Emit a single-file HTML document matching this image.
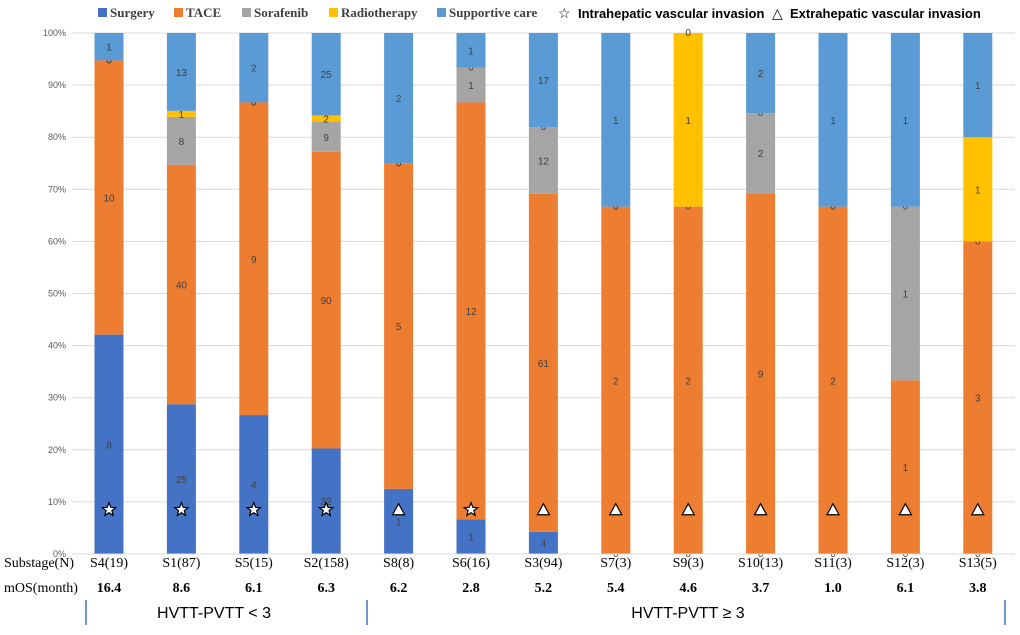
<!DOCTYPE html>
<html><head><meta charset="utf-8"><style>
body{margin:0;background:#fff;}
svg text{font-family:"Liberation Sans",sans-serif;}
.serif{font-family:"Liberation Serif",serif;}
</style></head><body>
<svg id="c" width="1020" height="630" xmlns="http://www.w3.org/2000/svg"></svg>
<script>
const categories=["S4(19)","S1(87)","S5(15)","S2(158)","S8(8)","S6(16)","S3(94)","S7(3)","S9(3)","S10(13)","S11(3)","S12(3)","S13(5)"];
const mos=["16.4","8.6","6.1","6.3","6.2","2.8","5.2","5.4","4.6","3.7","1.0","6.1","3.8"];
const surgery=[8,25,4,32,1,1,4,0,0,0,0,0,0];
const tace=[10,40,9,90,5,12,61,2,2,9,2,1,3];
const sorafenib=[0,8,0,9,0,1,12,0,0,2,0,1,0];
const radiotherapy=[0,1,0,2,0,0,0,0,1,0,0,0,1];
const supportive=[1,13,2,25,2,1,17,1,0,2,1,1,1];
const markers=["star","star","star","star","tri","star","tri","tri","tri","tri","tri","tri","tri"];
const yTicks=[0,10,20,30,40,50,60,70,80,90,100];
const seriesNames=["Surgery","TACE","Sorafenib","Radiotherapy","Supportive care"];
const colors=["#4472c4","#ed7d31","#a5a5a5","#ffc000","#5b9bd5"];
const series=[surgery,tace,sorafenib,radiotherapy,supportive];

const svg=document.getElementById('c');
const NS="http://www.w3.org/2000/svg";
const X0=72,X1=1015,Y0=554,Y1=33;
const y=v=>Y0-(Y0-Y1)*v/100;
const x=i=>109+i*72.4;
const BW=29;
function el(t,a,txt){const e=document.createElementNS(NS,t);for(const k in a)e.setAttribute(k,a[k]);if(txt!==undefined)e.textContent=txt;svg.appendChild(e);return e;}

yTicks.forEach(t=>{
  const g=el('line',{x1:X0,x2:X1,y1:y(t),y2:y(t),stroke:'#d9d9d9','stroke-width':1});
  
  
  const l=el('text',{x:66,y:y(t)+3,'font-size':9,fill:'#595959','text-anchor':'end'},t+'%');
  
  
});

categories.forEach((c,i)=>{
  const tot=series.reduce((s,a)=>s+a[i],0);
  let cum=0;
  series.forEach((a,k)=>{
    const p0=cum/tot*100, p1=(cum+a[i])/tot*100;
    if(a[i]>0){
      const r=el('rect',{x:x(i)-BW/2,y:y(p1),width:BW,height:y(p0)-y(p1),fill:colors[k]});
      
      
    }
    const ly=a[i]>0?(y(p0)+y(p1))/2+4:y(p0)+3;
    const t=el('text',{x:x(i),y:ly,'font-size':10,fill:'#404040','text-anchor':'middle'},a[i]);
    
    
    cum+=a[i];
  });
  const my=y(8.5), cx=x(i);
  if(markers[i]==='star'){
    const pts=[];for(let j=0;j<10;j++){const r=j%2?3:7,an=-Math.PI/2+j*Math.PI/5;pts.push((cx+r*Math.cos(an)).toFixed(1)+','+(my+r*Math.sin(an)).toFixed(1));}
    const s=el('polygon',{points:pts.join(' '),fill:'#fff',stroke:'#000','stroke-width':1.2});
    
    
  }else{
    const s=el('polygon',{points:`${cx},${my-6} ${cx-6},${my+5} ${cx+6},${my+5}`,fill:'#fff',stroke:'#000','stroke-width':1.2});
    
    
  }
  const cl=el('text',{x:cx,y:567,'font-size':14,fill:'#000','text-anchor':'middle',class:'serif'},c);
  
  
  const ml=el('text',{x:cx,y:592,'font-size':14,'font-weight':'bold',fill:'#000','text-anchor':'middle',class:'serif'},mos[i]);
  
  
});
const a1=el('line',{x1:X0,x2:X1,y1:Y0,y2:Y0,stroke:'#d9d9d9'});


const r1=el('text',{x:4,y:567,'font-size':14,class:'serif'},'Substage(N)');


const r2=el('text',{x:4,y:592,'font-size':14,class:'serif'},'mOS(month)');


[86,367,1005].forEach(v=>{
  const l=el('line',{x1:v,x2:v,y1:600,y2:625,stroke:'#4472c4','stroke-width':1.5});
  
  
});
const g1=el('text',{x:214,y:618,'font-size':16,'text-anchor':'middle'},'HVTT-PVTT < 3');


const g2=el('text',{x:688,y:618,'font-size':16,'text-anchor':'middle'},'HVTT-PVTT ≥ 3');



// legend
const lx=[98,174,242,329,437];
seriesNames.forEach((n,k)=>{
  const r=el('rect',{x:lx[k],y:8,width:9,height:9,fill:colors[k]});
  
  
  const t=el('text',{x:lx[k]+12,y:17,'font-size':13,'font-weight':'bold',fill:'#404040',class:'serif'},n);
  
  
});
const s1=el('text',{x:558,y:18,'font-size':14},'☆');


const t1=el('text',{x:578,y:18,'font-size':13,'font-weight':'bold'},'Intrahepatic vascular invasion');


const s2=el('text',{x:772,y:18,'font-size':14},'△');


const t2=el('text',{x:790,y:18,'font-size':13,'font-weight':'bold'},'Extrahepatic vascular invasion');


</script>
</body></html>
